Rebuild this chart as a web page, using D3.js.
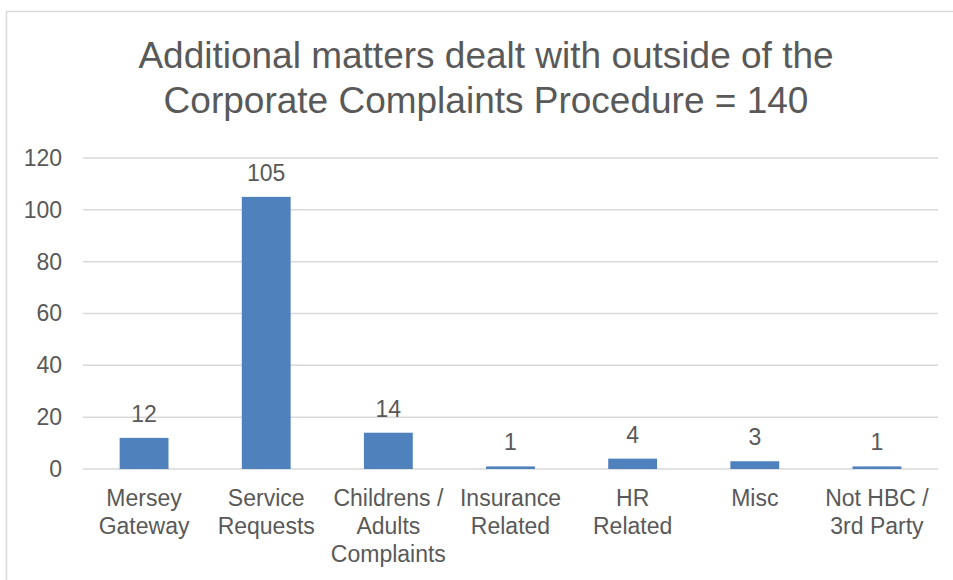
<!DOCTYPE html>
<html>
<head>
<meta charset="utf-8">
<script src="https://cdn.jsdelivr.net/npm/d3@7"></script>
<style>
  body { margin: 0; background: #fff; }
  text { font-family: "Liberation Sans", Arial, sans-serif; fill: #595959; }
</style>
</head>
<body>
<div id="chart"></div>
<script>
// Chart data
var categories = [["Mersey", "Gateway"], ["Service", "Requests"], ["Childrens /", "Adults", "Complaints"],
    ["Insurance", "Related"], ["HR", "Related"], ["Misc"], ["Not HBC /", "3rd Party"]];
var values = [12, 105, 14, 1, 4, 3, 1];
var yTicks = [0, 20, 40, 60, 80, 100, 120];
var titleLines = ["Additional matters dealt with outside of the", "Corporate Complaints Procedure = 140"];

var svgWidth = 953;
var svgHeight = 580;

var margin = { top: 158, bottom: 111, left: 83, right: 15 };
var width = svgWidth - margin.left - margin.right;
var height = svgHeight - margin.top - margin.bottom;

var svg = d3.select("#chart")
    .append("svg")
    .attr("width", svgWidth)
    .attr("height", svgHeight);

// chart area border
svg.append("rect")
    .attr("x", 6.5)
    .attr("y", 11.5)
    .attr("width", 960)
    .attr("height", 600)
    .attr("fill", "none")
    .attr("stroke", "#d9d9d9")
    .attr("stroke-width", 1.5);

// Title
svg.append("g").selectAll("text")
    .data(titleLines)
    .enter()
    .append("text")
    .attr("x", 486)
    .attr("y", (d, i) => 68 + i * 45)
    .attr("text-anchor", "middle")
    .attr("font-size", "37px")
    .text(d => d);

var chartGroup = svg.append("g")
    .attr("transform", `translate(${margin.left}, ${margin.top})`);

var xBand = d3.scaleBand()
    .domain(d3.range(values.length))
    .range([0, width])
    .paddingInner(0.6)
    .paddingOuter(0.3);

var yLinear = d3.scaleLinear()
    .domain([0, 120])
    .range([height, 0]);

// gridlines
chartGroup.append("g").selectAll("line")
    .data(yTicks)
    .enter()
    .append("line")
    .attr("x1", 0)
    .attr("x2", width)
    .attr("y1", d => yLinear(d))
    .attr("y2", d => yLinear(d))
    .attr("stroke", "#d9d9d9")
    .attr("stroke-width", 1.5);

// y axis labels
var leftAxis = d3.axisLeft(yLinear).tickValues(yTicks).tickSize(0).tickPadding(21);
var yAxis = chartGroup.append("g").call(leftAxis);
yAxis.select(".domain").remove();
yAxis.selectAll("text")
    .attr("font-size", "23px")
    .attr("font-family", null)
    .attr("fill", "#595959");

// bars
chartGroup.append("g").selectAll("rect")
    .data(values)
    .enter()
    .append("rect")
    .attr("x", (d, i) => xBand(i))
    .attr("y", d => yLinear(d))
    .attr("width", xBand.bandwidth())
    .attr("height", d => height - yLinear(d))
    .attr("fill", "#4f81bd");

// data labels
chartGroup.append("g").selectAll("text")
    .data(values)
    .enter()
    .append("text")
    .attr("x", (d, i) => xBand(i) + xBand.bandwidth() / 2)
    .attr("y", d => yLinear(d) - 16)
    .attr("text-anchor", "middle")
    .attr("font-size", "23px")
    .attr("fill", "#404040")
    .text(d => d);

// category labels
var catGroup = chartGroup.append("g")
    .attr("transform", `translate(0, ${height})`);
categories.forEach((lines, i) => {
    catGroup.append("text")
        .attr("text-anchor", "middle")
        .attr("font-size", "23px")
        .selectAll("tspan")
        .data(lines)
        .enter()
        .append("tspan")
        .attr("x", xBand(i) + xBand.bandwidth() / 2)
        .attr("y", (d, j) => 37 + j * 28)
        .text(d => d);
});
</script>
</body>
</html>
